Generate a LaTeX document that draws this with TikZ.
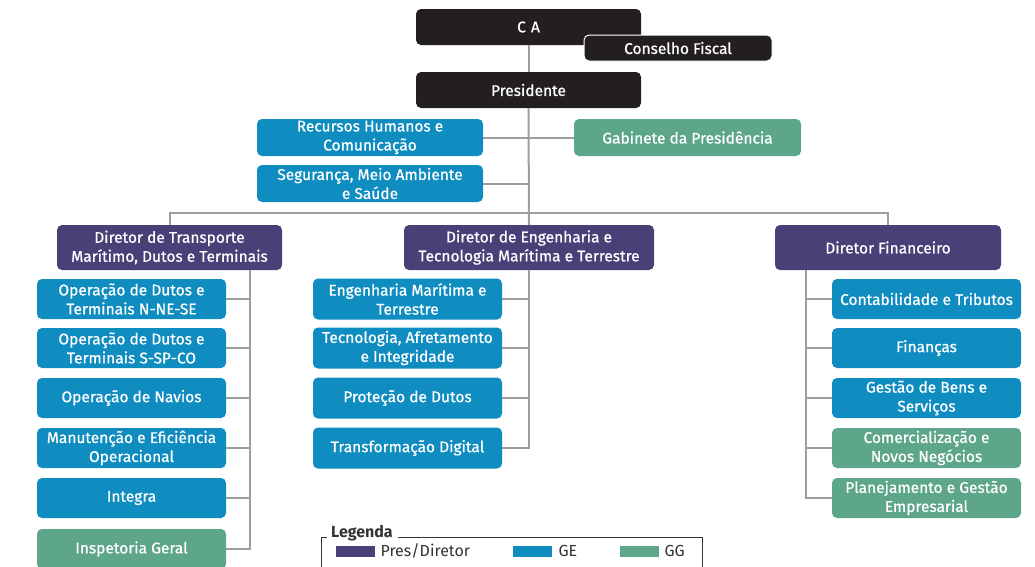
\documentclass[tikz,border=0pt]{standalone}
\usepackage{fontspec}
\setmainfont{Fira Sans}
\newfontfamily\boxfont[FakeBold=0.7]{Fira Sans}
\usetikzlibrary{positioning}

\definecolor{cablack}{HTML}{231F20}
\definecolor{dirpurple}{HTML}{4B3F77}
\definecolor{geblue}{HTML}{0F8CC0}
\definecolor{gggreen}{HTML}{5DA68A}
\definecolor{linegray}{HTML}{9E9E9E}
\definecolor{legtext}{HTML}{333333}

\tikzset{
  orgbox/.style={rounded corners=5pt, inner sep=0pt, align=center, text=white,
    font=\boxfont\fontsize{15.5}{19}\selectfont},
  topbox/.style={orgbox, fill=cablack, minimum width=225pt, minimum height=36pt},
  dirbox/.style={orgbox, fill=dirpurple, minimum height=45pt},
  gebox/.style={orgbox, fill=geblue, minimum width=189pt, minimum height=40pt},
  ggbox/.style={orgbox, fill=gggreen, minimum width=189pt, minimum height=40pt},
  conn/.style={draw=linegray, line width=2pt},
  swatch/.style={minimum width=39pt, minimum height=11pt, inner sep=0pt},
  legitem/.style={anchor=west, text=legtext, font=\fontsize{16}{18}\selectfont}
}

\begin{document}
\begin{tikzpicture}[x=1pt, y=-1pt]
\useasboundingbox (0,0) rectangle (1035,566);

% conselho e presidencia
\node[topbox] (ca) at (528.5,27) {C\,\,A};
\node[topbox, minimum width=188pt, minimum height=26pt, draw=white, line width=1pt] (fiscal) at (678,48) {Conselho Fiscal};
\node[topbox] (pres) at (528.5,90) {Presidente};

\node[gebox, minimum width=226pt, minimum height=37pt] (rh) at (370,137.5) {Recursos Humanos e\\Comunicação};
\node[ggbox, minimum width=227pt, minimum height=37pt] (gab) at (687.5,137.5) {Gabinete da Presidência};
\node[gebox, minimum width=226pt, minimum height=37pt] (sms) at (370,183.5) {Segurança, Meio Ambiente\\e Saúde};

% diretorias
\node[dirbox, minimum width=225pt] (dtm) at (169.5,247.5) {Diretor de Transporte\\Marítimo, Dutos e Terminais};
\node[dirbox, minimum width=250pt] (deng) at (529,247.5) {Diretor de Engenharia e\\Tecnologia Marítima e Terrestre};
\node[dirbox, minimum width=226pt] (dfin) at (888,247.5) {Diretor Financeiro};

% transporte
\node[gebox] (opn) at (131.5,299) {Operação de Dutos e\\Terminais N-NE-SE};
\node[gebox] (ops) at (131.5,348) {Operação de Dutos e\\Terminais S-SP-CO};
\node[gebox] (nav) at (131.5,398) {Operação de Navios};
\node[gebox] (man) at (131.5,448) {Manutenção e Eficiência\\Operacional};
\node[gebox] (integ) at (131.5,498) {Integra};
\node[ggbox] (insp) at (131.5,549) {Inspetoria Geral};

% engenharia
\node[gebox, minimum height=41pt] (emt) at (407.5,299) {Engenharia Marítima e\\Terrestre};
\node[gebox, minimum height=41pt] (tai) at (407.5,348) {Tecnologia, Afretamento\\e Integridade};
\node[gebox, minimum height=41pt] (pdu) at (407.5,398) {Proteção de Dutos};
\node[gebox, minimum height=41pt] (tdig) at (407.5,448) {Transformação Digital};

% financeiro
\node[gebox] (ctb) at (926.5,299) {Contabilidade e Tributos};
\node[gebox] (fin) at (926.5,348) {Finanças};
\node[gebox] (gbs) at (926.5,398) {Gestão de Bens e\\Serviços};
\node[ggbox] (cnn) at (926.5,448) {Comercialização e\\Novos Negócios};
\node[ggbox] (peg) at (926.5,498) {Planejamento e Gestão\\Empresarial};

% ligacoes
\coordinate (bus) at (529,213);
\coordinate (tspine) at (250,270);
\coordinate (fspine) at (806,270);
\draw[conn] (ca.south) -- (pres.north);
\draw[conn] (pres.south) -- (deng.north);
\draw[conn] (dtm.north) |- (bus) -| (dfin.north);
\draw[conn] (rh.east) -- (rh.east -| bus);
\draw[conn] (sms.east) -- (sms.east -| bus);
\draw[conn] (gab.west) -- (gab.west -| bus);

\draw[conn] (tspine) |- (insp.east);
\foreach \b in {opn,ops,nav,man,integ}
  \draw[conn] (\b.east) -- (\b.east -| tspine);

\draw[conn] (deng.south) |- (tdig.east);
\foreach \b in {emt,tai,pdu}
  \draw[conn] (\b.east) -- (\b.east -| deng.south);

\draw[conn] (fspine) |- (peg.west);
\foreach \b in {ctb,fin,gbs,cnn}
  \draw[conn] (\b.west) -- (\b.west -| fspine);

% legenda
\draw[draw=legtext, line width=1pt] (327,537) -- (321,537) -- (321,580) -- (702,580) -- (702,537) -- (398,537);
\node[anchor=west, inner sep=0pt, text=legtext, font=\fontsize{16}{18}\selectfont\bfseries] (legtitle) at (331,533) {Legenda};
\node[swatch, fill=dirpurple] (swdir) at (355.5,551) {};
\node[legitem] (lbdir) at (377,551) {Pres/Diretor};
\node[swatch, fill=geblue] (swge) at (532.5,551) {};
\node[legitem] (lbge) at (555,551) {GE};
\node[swatch, fill=gggreen] (swgg) at (639,551) {};
\node[legitem] (lbgg) at (661,551) {GG};
\end{tikzpicture}
\end{document}
